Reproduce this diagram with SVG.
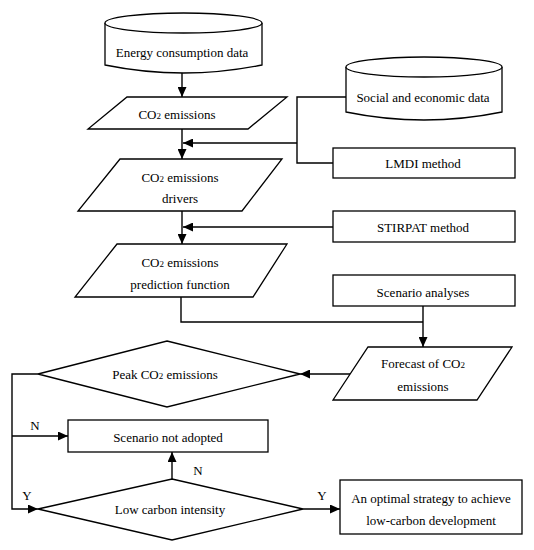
<svg xmlns="http://www.w3.org/2000/svg" width="534" height="550" viewBox="0 0 534 550" font-family="'Liberation Serif', 'DejaVu Serif', serif">
<style>
.s{fill:#fff;stroke:#000;stroke-width:1.3}
.c{fill:none;stroke:#000;stroke-width:1.4}
text{font-family:'Liberation Serif','DejaVu Serif',serif;font-size:13px;fill:#000;text-anchor:middle;dominant-baseline:central}
.sub{font-size:9px}
</style>
<defs>
<marker id="a" markerUnits="userSpaceOnUse" markerWidth="10" markerHeight="9" refX="10" refY="4.5" orient="auto">
<path d="M0,0 L10,4.5 L0,9 z" fill="#000"/>
</marker>
</defs>
<rect width="534" height="550" fill="#fff"/>
<g id="energy">
<path class="s" d="M105,23 L105,65 Q183.5,81 262,65 L262,23"/>
<ellipse class="s" cx="183.5" cy="23" rx="78.5" ry="10"/>
<text x="182" y="52">Energy consumption data</text>
</g>
<g id="social">
<path class="s" d="M346,67 L346,112 Q424,128 502,112 L502,67"/>
<ellipse class="s" cx="424" cy="67" rx="78" ry="10"/>
<text x="423" y="97">Social and economic data</text>
</g>
<g id="co2">
<polygon class="s" points="127,97 287,97 248,129 88,129"/>
<text x="177" y="114">CO<tspan class="sub" dy="2">2</tspan><tspan dy="-2"> emissions</tspan></text>
</g>
<g id="lmdi">
<rect class="s" x="333" y="148" width="182" height="30"/>
<text x="423" y="163">LMDI method</text>
</g>
<g id="drivers">
<polygon class="s" points="120,159 282,159 242,211 78,211"/>
<text x="180" y="177">CO<tspan class="sub" dy="2">2</tspan><tspan dy="-2"> emissions</tspan></text>
<text x="180" y="198">drivers</text>
</g>
<g id="stirpat">
<rect class="s" x="333" y="211" width="182" height="31"/>
<text x="423" y="227">STIRPAT method</text>
</g>
<g id="prediction">
<polygon class="s" points="117,244 287,244 253,297 75,297"/>
<text x="180" y="262">CO<tspan class="sub" dy="2">2</tspan><tspan dy="-2"> emissions</tspan></text>
<text x="180" y="284">prediction function</text>
</g>
<g id="scenario">
<rect class="s" x="333" y="275" width="182" height="31"/>
<text x="423" y="292">Scenario analyses</text>
</g>
<g id="forecast">
<polygon class="s" points="368,347 512,347 477,400 333,400"/>
<text x="423" y="363">Forecast of CO<tspan class="sub" dy="2">2</tspan></text>
<text x="423" y="386">emissions</text>
</g>
<g id="peak">
<polygon class="s" points="167,341 300,374 167,407 38,374"/>
<text x="165" y="374">Peak CO<tspan class="sub" dy="2">2</tspan><tspan dy="-2"> emissions</tspan></text>
</g>
<g id="notadopted">
<rect class="s" x="68" y="420" width="200" height="32"/>
<text x="168" y="437">Scenario not adopted</text>
</g>
<g id="lowcarbon">
<polygon class="s" points="172,479 303,509 172,540 38,509"/>
<text x="170" y="509">Low carbon intensity</text>
</g>
<g id="optimal">
<rect class="s" x="340" y="480" width="182" height="54"/>
<text x="431" y="498">An optimal strategy to achieve</text>
<text x="431" y="520">low-carbon development</text>
</g>
<g id="connectors">
<line class="c" x1="182" y1="73" x2="182" y2="97" marker-end="url(#a)"/>
<line class="c" x1="182" y1="129" x2="182" y2="159" marker-end="url(#a)"/>
<polyline class="c" points="346,97 297,97 297,163 333,163"/>
<line class="c" x1="297" y1="143" x2="183" y2="143" marker-end="url(#a)"/>
<line class="c" x1="182" y1="211" x2="182" y2="244" marker-end="url(#a)"/>
<line class="c" x1="333" y1="227" x2="183" y2="227" marker-end="url(#a)"/>
<polyline class="c" points="181,297 181,322 423,322"/>
<line class="c" x1="423" y1="306" x2="423" y2="347" marker-end="url(#a)"/>
<line class="c" x1="350" y1="374" x2="300" y2="374" marker-end="url(#a)"/>
<polyline class="c" points="38,374 12,374 12,509 38,509" marker-end="url(#a)"/>
<line class="c" x1="12" y1="436" x2="68" y2="436" marker-end="url(#a)"/>
<line class="c" x1="172" y1="479" x2="172" y2="452" marker-end="url(#a)"/>
<line class="c" x1="303" y1="509" x2="340" y2="509" marker-end="url(#a)"/>
<text x="35" y="425">N</text>
<text x="198" y="470">N</text>
<text x="27" y="495">Y</text>
<text x="322" y="495">Y</text>
</g>
</svg>
